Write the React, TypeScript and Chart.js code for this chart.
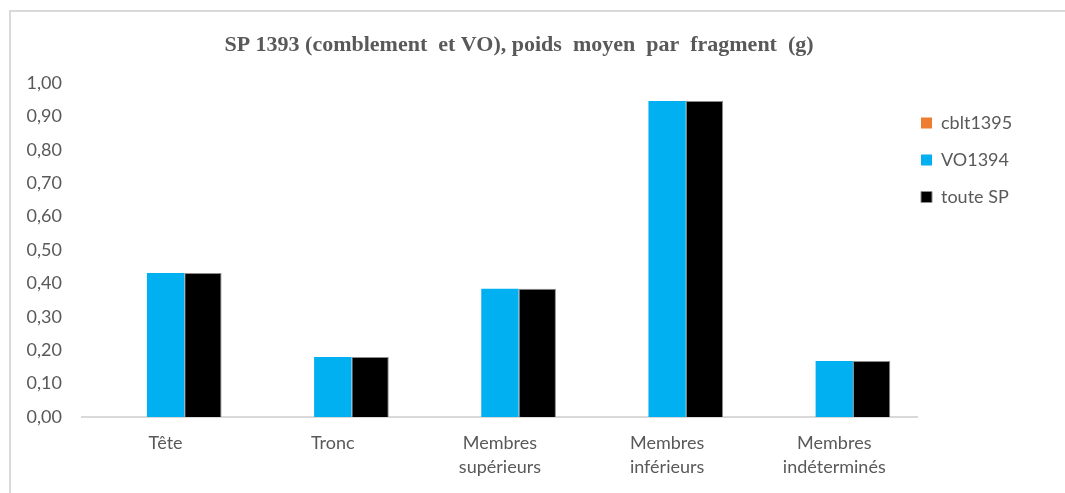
import React, { useEffect, useRef } from "react";
import { Chart, registerables } from "chart.js";

Chart.register(...registerables);

const categories: (string | string[])[] = [
  "Tête",
  "Tronc",
  ["Membres", "supérieurs"],
  ["Membres", "inférieurs"],
  ["Membres", "indéterminés"],
];
const seriesNames = ["cblt1395", "VO1394", "toute SP"];
const cbltValues = [0, 0, 0, 0, 0];
const voValues = [0.431, 0.18, 0.384, 0.946, 0.168];
const touteValues = [0.431, 0.18, 0.384, 0.946, 0.168];
const yTicks = [0, 0.1, 0.2, 0.3, 0.4, 0.5, 0.6, 0.7, 0.8, 0.9, 1.0];
const titleText = "SP 1393 (comblement  et VO), poids  moyen  par  fragment  (g)";

const TEXT = "#595959";
const AXIS = "#d9d9d9";

export default function App() {
  const ref = useRef<HTMLCanvasElement | null>(null);

  useEffect(() => {
    if (!ref.current) return;
    const legendMover = {
      id: "legendMover",
      afterLayout(chart: any) {
        const lg = chart.legend;
        if (!lg) return;
        const w = lg.width;
        const h = lg.height;
        lg.left = 902;
        lg.right = 902 + w;
        lg.top = 95;
        lg.bottom = 95 + h;
      },
    };
    const chart = new Chart(ref.current, {
      type: "bar",
      data: {
        labels: categories,
        datasets: [
          { label: seriesNames[0], data: cbltValues, backgroundColor: "#ED7D31", borderWidth: 0 },
          { label: seriesNames[1], data: voValues, backgroundColor: "#00B0F0", borderWidth: 0 },
          { label: seriesNames[2], data: touteValues, backgroundColor: "#000000", borderColor: "#8c8c8c", borderWidth: 1 },
        ],
      },
      options: {
        responsive: false,
        animation: false,
        devicePixelRatio: 1,
        layout: { padding: { left: 0, right: 27, top: 0, bottom: 0 } },
        datasets: { bar: { categoryPercentage: 0.67, barPercentage: 1 } },
        plugins: {
          title: {
            display: true,
            text: titleText,
            color: TEXT,
            font: { family: "'Liberation Serif', 'Times New Roman', serif", size: 22, weight: "bold", lineHeight: 1.2 },
            padding: { top: 32, bottom: 24.6 },
          },
          legend: {
            display: true,
            position: "right",
            align: "start",
            labels: {
              color: TEXT,
              font: { family: "Lato, 'Open Sans', sans-serif", size: 18 },
              boxWidth: 11,
              boxHeight: 11,
              padding: 19,
            },
          },
          tooltip: { enabled: false },
        },
        scales: {
          x: {
            grid: { display: false, drawTicks: false },
            border: { display: true, color: AXIS, width: 2 },
            ticks: {
              color: TEXT,
              font: { family: "Lato, 'Open Sans', sans-serif", size: 18, lineHeight: 1.33 },
              padding: 14,
              maxRotation: 0,
              autoSkip: false,
            },
            afterFit: (s: any) => {
              s.height = 76;
            },
          },
          y: {
            min: 0,
            max: 1,
            afterBuildTicks: (s: any) => {
              s.ticks = yTicks.map((v) => ({ value: v }));
            },
            grid: { display: false, drawTicks: false },
            border: { display: false },
            ticks: {
              color: TEXT,
              font: { family: "Lato, 'Open Sans', sans-serif", size: 18 },
              padding: 20,
              callback: (v: any) => Number(v).toFixed(2).replace(".", ","),
            },
            afterFit: (s: any) => {
              s.width = 82;
            },
          },
        },
      },
      plugins: [legendMover],
    });
    return () => chart.destroy();
  }, []);

  return (
    <div style={{ position: "fixed", left: 0, top: 0, width: 1065, height: 493, background: "#fff" }}>
      <canvas ref={ref} width={1065} height={493} style={{ display: "block", width: 1065, height: 493 }} />
      <div
        style={{
          position: "absolute",
          left: 9,
          top: 10,
          width: 1056,
          height: 483,
          borderTop: `2px solid ${AXIS}`,
          borderLeft: `2px solid ${AXIS}`,
          boxSizing: "border-box",
          pointerEvents: "none",
        }}
      />
    </div>
  );
}
